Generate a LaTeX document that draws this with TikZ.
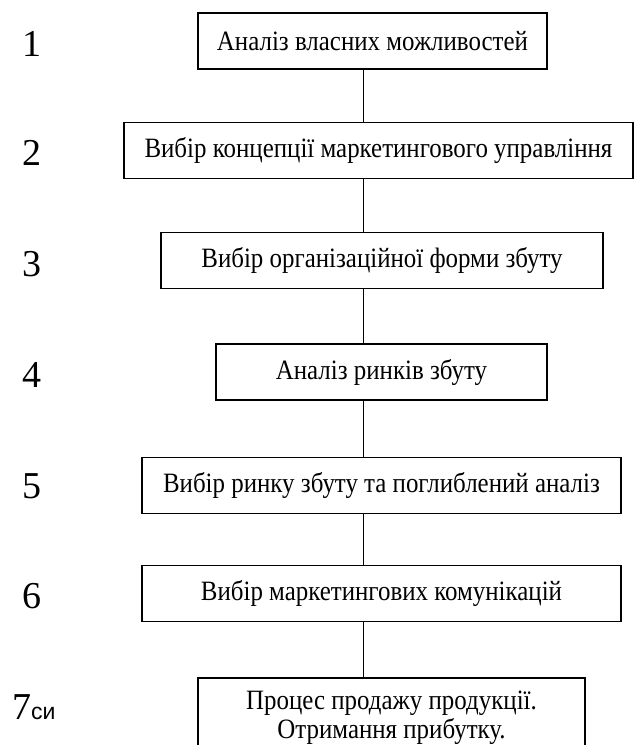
\documentclass[tikz,border=0pt]{standalone}
\usepackage{fontspec}
\setmainfont{Liberation Serif}
\newfontfamily\boxfont[FakeStretch=0.89]{Liberation Serif}
\newfontfamily\labelsans{Liberation Sans}
\usetikzlibrary{positioning}
\tikzset{
  stagebox/.style={
    rectangle, draw=black, fill=white,
    line width=1.3pt, align=center,
    font=\boxfont\fontsize{28}{29}\selectfont,
    minimum height=56pt, inner sep=4pt,
  },
  stagenum/.style={
    anchor=west, inner sep=0pt,
    font=\fontsize{38}{40}\selectfont,
  },
  link/.style={line width=1pt, color=black},
}

\begin{document}
\begin{tikzpicture}[x=1pt,y=-1pt]
  \useasboundingbox (0,0) rectangle (634,745);
  \coordinate (spine) at (363,0);

  \foreach \i/\x/\y/\w/\txt in {
      1/372.5/41/349/Аналіз власних можливостей,
      2/378.5/150.5/509/Вибір концепції маркетингового управління,
      3/382/260.5/442/Вибір організаційної форми збуту,
      4/381.5/372/331/Аналіз ринків збуту,
      5/381.5/485.5/479/Вибір ринку збуту та поглиблений аналіз,
      6/381.5/593.5/479/Вибір маркетингових комунікацій}{
    \node[stagebox, minimum width=\w pt] (b\i) at (\x,\y) {\txt};
  }
  \node[stagebox, minimum width=387pt, minimum height=80pt] (b7) at (391.5,718)
        {Процес продажу продукції.\\Отримання прибутку.};

  \foreach \a/\b in {1/2,2/3,3/4,4/5,5/6,6/7}{
    \draw[link] (b\a.south -| spine) -- (b\b.north -| spine);
  }

  \foreach \i/\y in {1/44,2/153,3/264,4/375,5/486,6/596}{
    \node[stagenum] (n\i) at (22,\y) {\i};
  }
  \node[stagenum] (n7) at (12,707) {7{\labelsans\fontsize{23}{26}\selectfont си}};

\end{tikzpicture}
\end{document}
